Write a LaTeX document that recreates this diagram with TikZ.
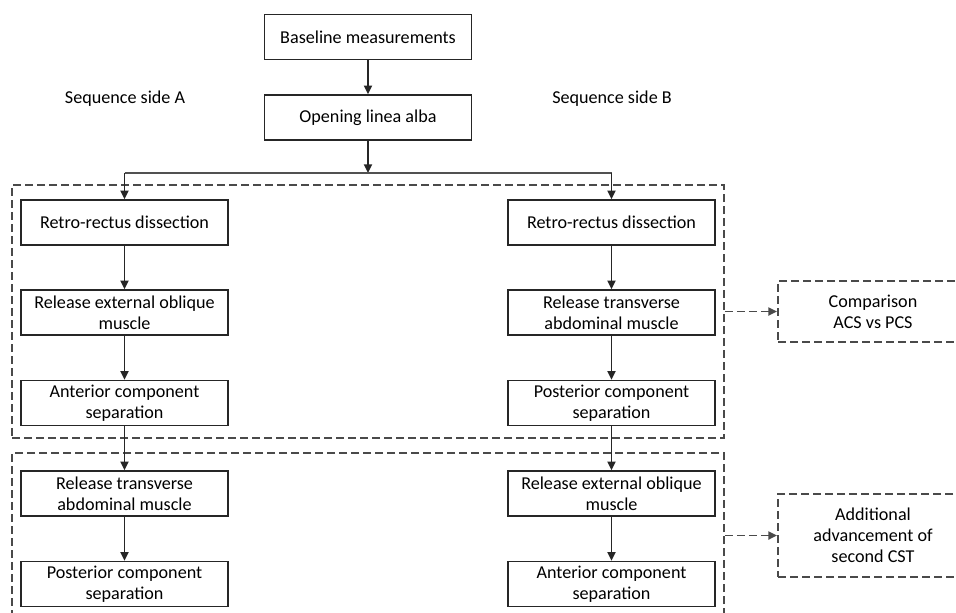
\documentclass[tikz,border=0pt]{standalone}
\usepackage{fontspec}
\setmainfont{Carlito}
\usepackage{xcolor}
\usetikzlibrary{arrows.meta,calc,positioning}
\definecolor{lineDark}{HTML}{262626}
\definecolor{dashGray}{HTML}{4A4A4A}

\begin{document}
\begin{tikzpicture}[
  x=0.75pt, y=-0.75pt,
  every node/.style={font=\fontsize{13.6}{15.8}\selectfont, text=black},
  stepbox/.style={rectangle, draw=lineDark, line width=1.25pt, align=center, minimum width=155.25pt, minimum height=33.75pt, inner sep=2pt},
  outcome/.style={rectangle, draw=dashGray, line width=1.4pt, dash pattern=on 6pt off 3pt, align=center, minimum width=142.5pt, inner sep=2pt},
  group/.style={rectangle, draw=dashGray, line width=1.4pt, dash pattern=on 6pt off 3pt, minimum width=534pt, inner sep=0pt},
  arrow/.style={-{Triangle[length=6.5pt,width=6pt]}, line width=1.3pt, draw=lineDark},
  dasharrow/.style={-{Triangle[length=6.5pt,width=6pt]}, line width=1.4pt, draw=dashGray, dash pattern=on 6pt off 3pt},
  branch/.style={line width=0.8pt, draw=lineDark!80},
]
\useasboundingbox (0,0) rectangle (956,612);

\node[stepbox] (base) at (368,37) {Baseline measurements};
\node[stepbox] (open) at (368,117.5) {Opening linea alba};
\node (sideA) at (125,99) {Sequence side A};
\node (sideB) at (612,99) {Sequence side B};

% dashed groups
\node[group, minimum height=189.75pt] (grpone) at (368,311.5) {};
\node[group, minimum height=155.25pt] (grptwo) at (368,556.5) {};

% side A
\node[stepbox] (rrA) at (124.5,222.5) {Retro-rectus dissection};
\node[stepbox] (eoA) at (124.5,312.5) {Release external oblique\\muscle};
\node[stepbox] (acsA) at (124.5,403) {Anterior component\\separation};
\node[stepbox] (taA) at (124.5,493.5) {Release transverse\\abdominal muscle};
\node[stepbox] (pcsA) at (124.5,584) {Posterior component\\separation};

% side B
\node[stepbox] (rrB) at (611.5,222.5) {Retro-rectus dissection};
\node[stepbox] (taB) at (611.5,312.5) {Release transverse\\abdominal muscle};
\node[stepbox] (pcsB) at (611.5,403) {Posterior component\\separation};
\node[stepbox] (eoB) at (611.5,493.5) {Release external oblique\\muscle};
\node[stepbox] (acsB) at (611.5,584) {Anterior component\\separation};

\node[outcome, minimum height=45.75pt] (compare) at (873,311.5) {Comparison\\ACS vs PCS};
\node[outcome, minimum height=62.25pt] (advance) at (873,535.5) {Additional\\advancement of\\second CST};

\coordinate (split) at (368,173);
\draw[arrow] (base) -- (open);
\draw[arrow] (open) -- (split);
\draw[branch] (split -| rrA) -- (split -| rrB);
\draw[arrow] (split -| rrA) -- (rrA.north);
\draw[arrow] (split -| rrB) -- (rrB.north);

\foreach \a/\b in {rrA/eoA, eoA/acsA, acsA/taA, taA/pcsA, rrB/taB, taB/pcsB, pcsB/eoB, eoB/acsB} {
  \draw[arrow] (\a) -- (\b);
}

\draw[dasharrow] (compare.west -| grpone.east) -- (compare.west);
\draw[dasharrow] (advance.west -| grptwo.east) -- (advance.west);
\end{tikzpicture}
\end{document}
